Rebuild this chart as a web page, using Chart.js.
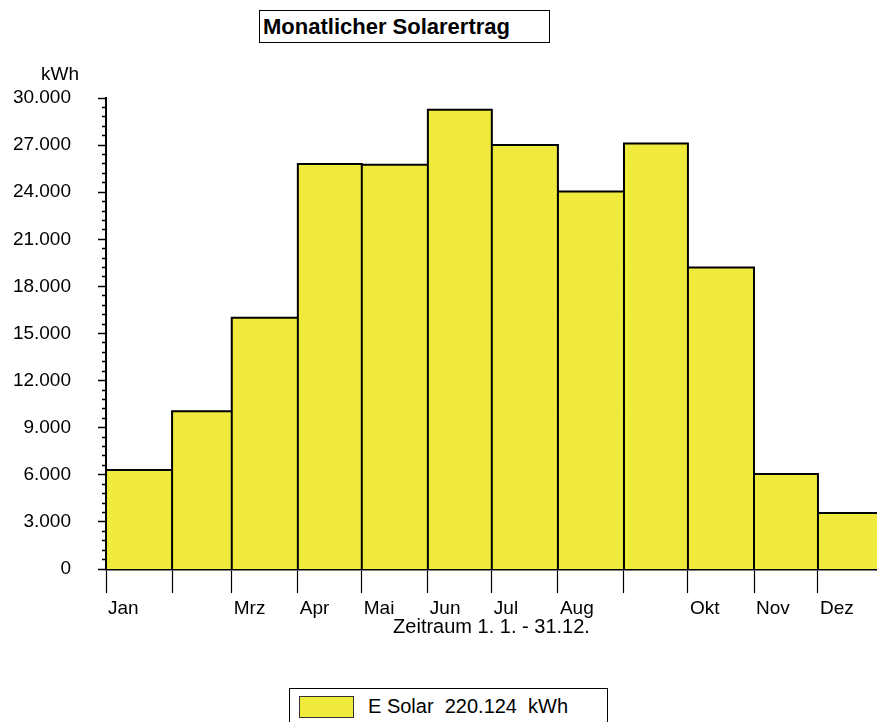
<!DOCTYPE html>
<html>
<head>
<meta charset="utf-8">
<script src="https://cdn.jsdelivr.net/npm/chart.js@4/dist/chart.umd.min.js"></script>
<style>
  html, body { margin: 0; padding: 0; background: #fff; }
  #wrap { position: relative; width: 877px; height: 722px; overflow: hidden; font-family: "Liberation Sans", Arial, sans-serif; }
  #c { position: absolute; left: 0; top: 0; }
  #title { position: absolute; left: 259px; top: 10px; width: 286px; height: 31px; border: 1.5px solid #000; background: #fff;
           font-weight: bold; font-size: 22px; line-height: 31px; padding-left: 3px; box-sizing: content-box; color: #000; white-space: nowrap; }
  #unit { position: absolute; left: 41px; top: 64px; font-size: 19px; line-height: 19px; color: #000; }
  #legend { position: absolute; left: 289px; top: 688px; width: 317px; height: 50px; border: 1.5px solid #000; background: #fff; }
  #swatch { position: absolute; left: 9px; top: 7px; width: 53px; height: 20px; border: 1px solid #333; }
  #legtext { position: absolute; left: 78px; top: 6px; font-size: 20px; line-height: 22px; white-space: pre; color: #000; }
</style>
</head>
<body>
<div id="wrap">
  <canvas id="c" width="877" height="722"></canvas>
  <div id="title">Monatlicher Solarertrag</div>
  <div id="unit">kWh</div>
  <div id="legend"><div id="swatch"></div><div id="legtext"></div></div>
</div>
<script>
// ---- data ----
const months = ['Jan','Feb','Mrz','Apr','Mai','Jun','Jul','Aug','Sep','Okt','Nov','Dez'];
const tickLabels = ['Jan','','Mrz','Apr','Mai','Jun','Jul','Aug','','Okt','Nov','Dez'];
const daysInMonth = [31,28,31,30,31,30,31,31,30,31,30,31];
const solarKWh = [6300,10050,16000,25800,25750,29250,27000,24050,27100,19200,6050,3574];
const seriesName = 'E Solar';
const yMax = 30000;
const yMajorStep = 3000;
const yMinorStep = 600;
const xAxisTitle = 'Zeitraum 1. 1. - 31.12.';
const unit = 'kWh';

const barColor = '#F0EA3C';

function fmtDE(v) {
  return String(Math.round(v)).replace(/\B(?=(\d{3})+(?!\d))/g, '.');
}

// month start days
const monthStart = [];
let acc = 0;
for (const d of daysInMonth) { monthStart.push(acc); acc += d; }

// bar outlines as polygon path through the scales
const pts = [];
solarKWh.forEach((v, i) => {
  const s = monthStart[i], e = s + daysInMonth[i];
  pts.push({x: s, y: 0}, {x: s, y: v}, {x: e, y: v}, {x: e, y: 0});
});

const total = solarKWh.reduce((a, b) => a + b, 0);
document.getElementById('legtext').textContent = seriesName + '  ' + fmtDE(total) + '  ' + unit;
document.getElementById('swatch').style.background = barColor;
document.getElementById('unit').textContent = unit;

Chart.defaults.font.family = '"Liberation Sans", Arial, sans-serif';
Chart.defaults.color = '#000';

new Chart(document.getElementById('c'), {
  type: 'scatter',
  data: {
    datasets: [{
      label: seriesName,
      data: pts,
      showLine: true,
      fill: 'origin',
      backgroundColor: barColor,
      borderColor: '#000',
      borderWidth: 2,
      pointRadius: 0,
      pointHoverRadius: 0,
      tension: 0
    }]
  },
  options: {
    responsive: false,
    animation: false,
    events: [],
    layout: { padding: { top: 98, left: 0, right: 0, bottom: 0 } },
    plugins: { legend: { display: false }, tooltip: { enabled: false }, title: { display: false } },
    scales: {
      x: {
        type: 'linear',
        position: 'bottom',
        min: 0,
        max: 361.7,
        afterBuildTicks: (axis) => { axis.ticks = monthStart.map(v => ({ value: v })); },
        afterFit: (axis) => { axis.height = 153; },
        ticks: {
          autoSkip: false,
          maxRotation: 0,
          align: 'start',
          labelOffset: 2,
          padding: 4,
          font: { size: 19 },
          color: '#000',
          callback: (v) => { const i = monthStart.indexOf(v); return i >= 0 ? tickLabels[i] : ''; }
        },
        grid: { drawOnChartArea: false, drawTicks: true, tickLength: 24, tickColor: '#000', tickWidth: 1.2 },
        border: { display: true, color: '#000', width: 2.5 },
        title: { display: true, text: xAxisTitle, font: { size: 20 }, color: '#000', padding: { top: 0, bottom: 83 } }
      },
      y: {
        type: 'linear',
        min: 0,
        max: yMax,
        afterFit: (axis) => { axis.width = 106; },
        ticks: {
          stepSize: yMinorStep,
          autoSkip: false,
          padding: 27,
          font: { size: 19 },
          color: '#000',
          callback: (v) => (v % yMajorStep === 0 ? fmtDE(v) : '')
        },
        grid: {
          drawOnChartArea: false,
          drawTicks: true,
          tickLength: 8,
          tickColor: '#000',
          tickWidth: 1.5,
          tickBorderDash: (ctx) => (ctx.tick && ctx.tick.value % yMajorStep === 0 ? [] : [0, 4, 4])
        },
        border: { display: true, color: '#000', width: 2 }
      }
    }
  }
});
</script>
</body>
</html>
